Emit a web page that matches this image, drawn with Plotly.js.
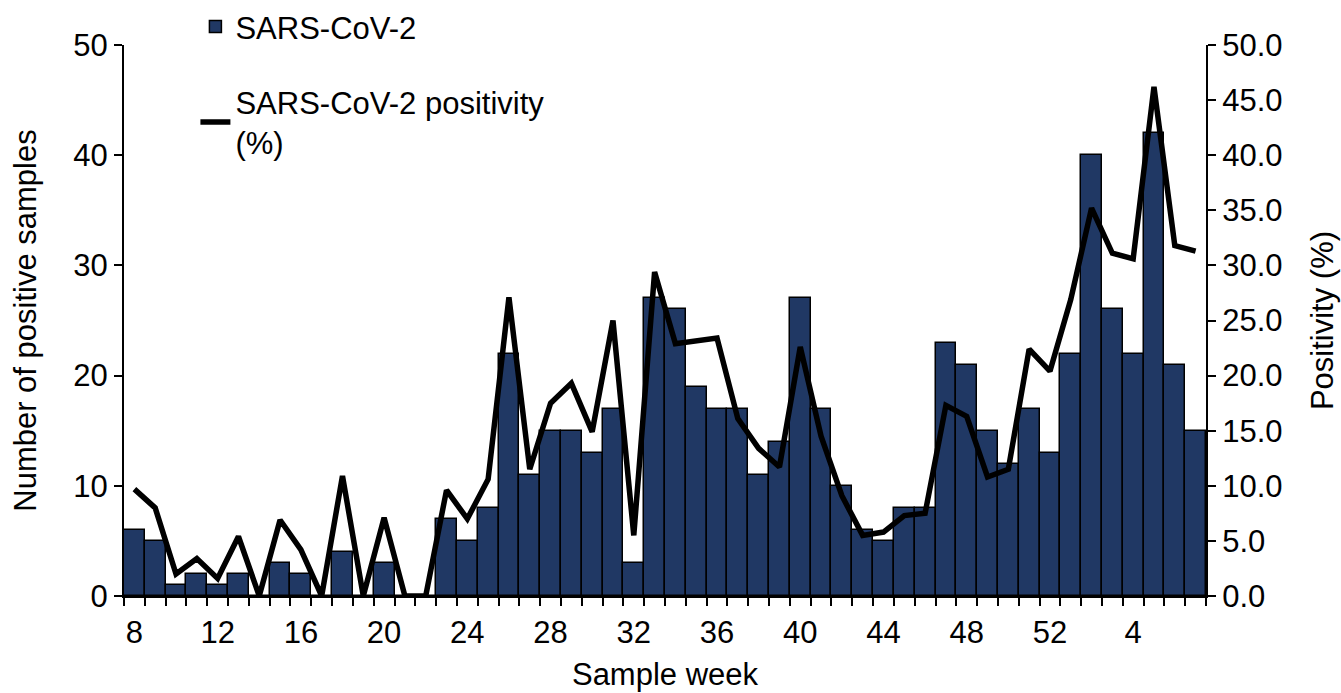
<!DOCTYPE html>
<html><head><meta charset="utf-8">
<script src="https://cdn.plot.ly/plotly-3.0.1.min.js"></script>
<style>body{margin:0;background:#fff}#chart{width:1341px;height:693px}</style>
</head><body><div id="chart"></div>
<script>
const weeks = [8,9,10,11,12,13,14,15,16,17,18,19,20,21,22,23,24,25,26,27,28,29,30,31,32,33,34,35,36,37,38,39,40,41,42,43,44,45,46,47,48,49,50,51,52,1,2,3,4,5,6,7];
const positiveSamples = [6,5,1,2,1,2,0,3,2,0,4,0,3,0,0,7,5,8,22,11,15,15,13,17,3,27,26,19,17,17,11,14,27,17,10,6,5,8,8,23,21,15,12,17,13,22,40,26,22,42,21,15];
const positivity = [9.7,8.0,2.0,3.4,1.6,5.4,0,6.9,4.2,0,10.9,0,7.1,0,0,9.6,7.0,10.6,27.1,11.5,17.5,19.3,14.9,25.0,5.5,29.4,22.9,23.2,23.4,16.1,13.4,11.7,22.6,14.5,9.1,5.5,5.8,7.3,7.5,17.3,16.3,10.8,11.5,22.4,20.4,26.9,35.2,31.1,30.6,46.2,31.8,31.3];
const labelEvery = 4;

const idx = weeks.map((w,i)=>i);
const tickvals = idx.filter(i=>i%labelEvery===0);
const ticktext = tickvals.map(i=>String(weeks[i]));
const F = 'Liberation Sans, Arial, sans-serif';
const FS = 31;

const traces = [
  {type:'bar', x:idx, y:positiveSamples, name:'SARS-CoV-2', legendgroup:'a',
   marker:{color:'#203864', line:{color:'#000', width:1.5}}},
  {type:'scatter', mode:'lines', x:idx, y:positivity, yaxis:'y2', name:'SARS-CoV-2 positivity<br>(%)', legendgroup:'b',
   line:{color:'#000', width:5.5}}
];
const layout = {
  width:1341, height:693,
  margin:{l:124, r:135, t:45, b:97, autoexpand:false},
  paper_bgcolor:'#fff', plot_bgcolor:'#fff',
  font:{family:F, size:FS, color:'#000'},
  bargap:0,
  showlegend:true,
  legend:{x:0.066, y:1.082, xanchor:'left', yanchor:'top', bgcolor:'rgba(0,0,0,0)',
          traceorder:'grouped', tracegroupgap:32, font:{family:F, size:FS, color:'#000'}},
  xaxis:{range:[-0.5, weeks.length-0.5], tickmode:'array', tickvals:tickvals, ticktext:ticktext,
         ticks:'outside', ticklen:8, tickcolor:'rgba(0,0,0,0)', showgrid:false, zeroline:false,
         showline:true, linecolor:'#000', linewidth:2,
         minor:{tickmode:'linear', tick0:-0.5, dtick:1, ticks:'outside', ticklen:8, tickwidth:2, tickcolor:'#000', showgrid:false},
         title:{text:'Sample week', font:{family:F, size:FS}, standoff:14}},
  yaxis:{range:[0,50], dtick:10, ticks:'outside', ticklen:8, tickwidth:2, tickcolor:'#000',
         showline:true, linecolor:'#000', linewidth:2, showgrid:false, zeroline:false,
         title:{text:'Number of positive samples', font:{family:F, size:FS}, standoff:27}},
  yaxis2:{range:[0,50], dtick:5, tickformat:'.1f', overlaying:'y', side:'right',
          ticks:'outside', ticklen:8, tickwidth:2, tickcolor:'#000',
          showline:true, linecolor:'#000', linewidth:2, showgrid:false, zeroline:false,
          title:{text:'Positivity (%)', font:{family:F, size:FS}, standoff:30}}
};
Plotly.newPlot('chart', traces, layout, {displayModeBar:false});
</script></body></html>
